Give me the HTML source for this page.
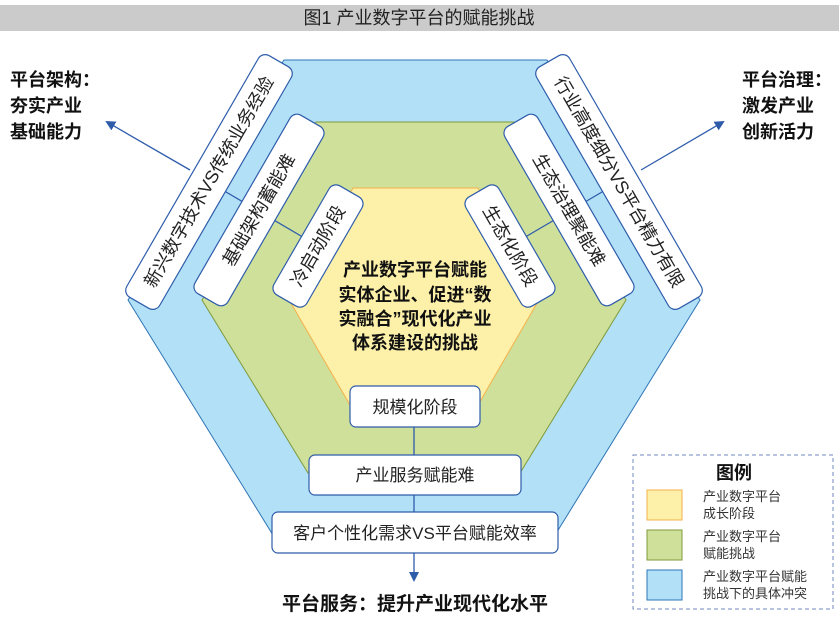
<!DOCTYPE html>
<html><head><meta charset="utf-8"><style>
html,body{margin:0;padding:0;background:#fff;}
svg{display:block;font-family:"Liberation Sans","Noto Sans CJK SC",sans-serif;}
</style></head><body>
<svg width="839" height="620" viewBox="0 0 839 620" xmlns="http://www.w3.org/2000/svg">
<defs>
<marker id="ah" markerWidth="10" markerHeight="10" refX="8" refY="5" orient="auto" markerUnits="userSpaceOnUse"><path d="M0,0 L10,5 L0,10 z" fill="#2e5cab"/></marker>
</defs>
<rect x="0" y="5" width="839" height="26" fill="#cbcbcb"/>
<text x="419" y="24" font-size="18" text-anchor="middle" fill="#222">图1 产业数字平台的赋能挑战</text>

<polygon points="284,60 547,60 700,300 552,540 276,540 128,300" fill="#b1e0f7" stroke="#2e75b6" stroke-width="1"/>
<polygon points="316,122 514,122 626,300 520,473 308,473 202,300" fill="#cfe09b" stroke="#7f9a3b" stroke-width="1"/>
<polygon points="353,188 478,188 540,298 478,405 350,405 288,298" fill="#fdf1a9" stroke="#f4b04a" stroke-width="1"/>

<g stroke="#2e5cab" stroke-width="1.3" fill="none">
<line x1="209" y1="182" x2="318" y2="246"/>
<line x1="619" y1="182" x2="510" y2="246"/>
<line x1="414" y1="406" x2="414" y2="580" marker-end="url(#ah)"/>
<line x1="190" y1="170" x2="107" y2="122" marker-end="url(#ah)"/>
<line x1="641" y1="170" x2="723" y2="122" marker-end="url(#ah)"/>
</g>

<g fill="#fff" stroke="#2e5cab" stroke-width="1.2">
<rect x="-139.5" y="-19" width="279" height="38" rx="8" transform="translate(209,182) rotate(-60)"/>
<rect x="-103" y="-19" width="206" height="38" rx="8" transform="translate(259,210) rotate(-60)"/>
<rect x="-63" y="-19" width="126" height="38" rx="8" transform="translate(318,246) rotate(-60)"/>
<rect x="-139.5" y="-19" width="279" height="38" rx="8" transform="translate(619,182) rotate(60)"/>
<rect x="-103" y="-19" width="206" height="38" rx="8" transform="translate(569,210) rotate(60)"/>
<rect x="-63" y="-19" width="126" height="38" rx="8" transform="translate(510,246) rotate(60)"/>
<rect x="350" y="386" width="130" height="41" rx="6"/>
<rect x="309" y="455" width="212" height="40" rx="6"/>
<rect x="272" y="512" width="286" height="41" rx="6"/>
</g>

<g font-size="18" fill="#222" text-anchor="middle">
<text transform="translate(209,182) rotate(-60)" y="6">新兴数字技术VS传统业务经验</text>
<text transform="translate(259,210) rotate(-60)" y="6">基础架构蓄能难</text>
<text transform="translate(318,246) rotate(-60)" y="6">冷启动阶段</text>
<text transform="translate(619,182) rotate(60)" y="6">行业高度细分VS平台精力有限</text>
<text transform="translate(569,210) rotate(60)" y="6">生态治理聚能难</text>
<text transform="translate(510,246) rotate(60)" y="6">生态化阶段</text>
</g>
<g font-size="17" fill="#222" text-anchor="middle">
<text x="415" y="413">规模化阶段</text>
<text x="415" y="481">产业服务赋能难</text>
<text x="415" y="539">客户个性化需求VS平台赋能效率</text>
</g>

<g font-size="18" font-weight="bold" fill="#111" text-anchor="middle">
<text x="415" y="276">产业数字平台赋能</text>
<text x="415" y="301">实体企业、促进“数</text>
<text x="415" y="325">实融合”现代化产业</text>
<text x="415" y="349">体系建设的挑战</text>
</g>
<text x="415" y="610" font-size="19" font-weight="bold" fill="#111" text-anchor="middle">平台服务：提升产业现代化水平</text>
<g font-size="18" font-weight="bold" fill="#111">
<text x="10" y="86">平台架构：</text>
<text x="10" y="112">夯实产业</text>
<text x="10" y="138">基础能力</text>
<text x="742" y="86">平台治理：</text>
<text x="742" y="112">激发产业</text>
<text x="742" y="138">创新活力</text>
</g>

<rect x="633" y="455" width="200" height="154" fill="none" stroke="#6d88c0" stroke-width="1" stroke-dasharray="4,3"/>
<text x="734" y="479" font-size="18" font-weight="bold" text-anchor="middle" fill="#111">图例</text>
<rect x="647" y="490" width="35" height="30" fill="#fdf1a9" stroke="#f4b04a"/>
<rect x="647" y="530" width="35" height="30" fill="#cfe09b" stroke="#7f9a3b"/>
<rect x="647" y="570" width="35" height="30" fill="#b1e0f7" stroke="#2e75b6"/>
<g font-size="13" fill="#333">
<text x="703" y="501">产业数字平台</text>
<text x="703" y="518">成长阶段</text>
<text x="703" y="541">产业数字平台</text>
<text x="703" y="558">赋能挑战</text>
<text x="703" y="581">产业数字平台赋能</text>
<text x="703" y="598">挑战下的具体冲突</text>
</g>
</svg>
</body></html>
